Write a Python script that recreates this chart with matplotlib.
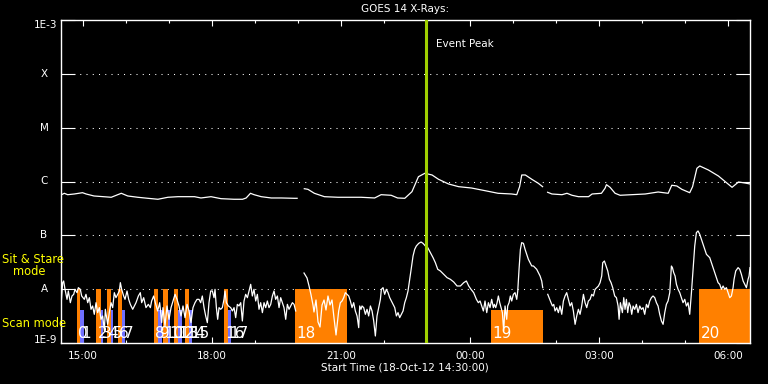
import numpy as np
import matplotlib
matplotlib.use("Agg")
import matplotlib.pyplot as plt
from matplotlib.transforms import blended_transform_factory
from matplotlib.ticker import FixedLocator, NullLocator

# ---------------- data ----------------
title = "GOES 14 X-Rays:"
xlabel = "Start Time (18-Oct-12 14:30:00)"
xtick_minutes = [30, 210, 390, 570, 750, 930]          # minutes after 14:30
xtick_labels = ["15:00", "18:00", "21:00", "00:00", "03:00", "06:00"]
minor_minutes = [30 + 60 * i for i in range(16)]
class_levels = [1e-8, 1e-7, 1e-6, 1e-5, 1e-4]
class_labels = ["A", "B", "C", "M", "X"]
peak_minute = 508
peak_label = "Event Peak"

# GOES long channel (1-8 A), log10 flux, minutes after 14:30
long_t = [0, 4.6, 9.3, 18.5, 30, 35, 46, 70, 84, 93, 107, 121, 135, 149, 163, 186,
          195, 209, 223, 241, 253, 258, 264, 269, 279, 293, 307, 325, 329, 334,
          339, 344, 353, 367, 386, 404, 418, 437, 446, 460, 469, 479, 489, 498,
          507, 517, 526, 540, 554, 572, 591, 609, 628, 635, 639, 642, 647, 656,
          665, 671, 674, 678, 684, 698, 705, 712, 721, 735, 740, 753, 758, 760,
          765, 772, 779, 795, 814, 832, 846, 851, 858, 865, 876, 880, 886, 890,
          902, 916, 935, 944, 953, 960]
long_log = [-6.251, -6.219, -6.245, -6.232, -6.208, -6.232, -6.269, -6.293, -6.219,
            -6.269, -6.293, -6.312, -6.330, -6.293, -6.282, -6.282, -6.306, -6.282,
            -6.319, -6.330, -6.330, -6.306, -6.219, -6.245, -6.282, -6.306, -6.306,
            -6.312, -6.312, np.nan,
            -6.134, -6.145, -6.219, -6.282, -6.293, -6.293, -6.293, -6.306, -6.245,
            -6.256, -6.306, -6.312, -6.189, -5.911, -5.847, -5.879, -5.959, -6.046,
            -6.096, -6.121, -6.171, -6.219, -6.232, -6.245, -6.096, -5.879, -5.879,
            -5.959, -6.033, -6.096, np.nan,
            -6.200, -6.232, -6.245, -6.219, -6.256, -6.282, -6.282, -6.232, -6.219,
            -6.126, -6.059, -6.108, -6.219, -6.256, -6.245, -6.232, -6.195, -6.219,
            -6.070, -6.083, -6.145, -6.208, -6.096, -5.755, -5.712, -5.786, -5.898,
            -6.108, -6.009, -6.028, -6.046]

# GOES short channel (0.5-4 A), log10 flux, minutes after 14:30
short_t = [0, 2.3, 3.7, 5.6, 8.4, 10.2, 13.0, 15.3, 17.7, 19.5, 22.3, 24.2, 26.9, 28.8,
           32.5, 34.8, 37.2, 39.5, 41.8, 44.1, 46.4, 48.8, 51.1, 53.4, 55.7, 58.1,
           60.4, 61.8, 65.0, 67.3, 69.7, 72.0, 74.3, 76.6, 79.0, 81.3, 82.7, 84.5,
           87.3, 89.2, 92.0, 94.3, 96.6, 99.9, 102.2, 104.5, 107.8, 110.5, 112.4,
           115.2, 118.4, 121.7, 124.5, 126.3, 129.1, 131.4, 134.7, 137.5, 140.3,
           142.1, 144.9, 147.7, 150.5, 153.3, 156.1, 158.9, 161.6, 164.4, 167.2,
           170.0, 172.8, 175.6, 178.4, 181.1, 183.9, 186.7, 189.5,
           192.3, 194.6, 196.9, 199.3, 201.6, 203.9, 206.2, 208.6, 210.9, 213.2,
           214.6, 216.5, 218.3, 220.2, 222.5, 224.8, 227.1, 228.5, 230.4, 233.2,
           236.4, 238.8, 241.1, 243.4, 245.7, 248.0, 250.4, 252.7, 255.0, 257.3,
           259.7, 262.0, 264.3, 266.6, 268.9, 271.3, 273.6, 275.9, 278.2, 280.6,
           282.9, 285.2, 287.5, 289.8, 292.2, 294.5, 296.8, 299.1, 301.5, 303.8,
           306.1, 308.4, 310.7, 313.1, 315.4, 317.7, 320.0, 322.4, 324.7, 327.0, 333,
           338.6, 342.8, 345.6, 348.4, 351.1, 352.5, 355.3, 358.1, 360.9, 363.7,
           366.5, 369.2, 372.0, 374.8, 377.6, 380.4, 383.2,
           386.9, 389.2, 391.6, 393.9, 396.2, 398.5, 400.9, 403.2, 405.5, 407.8,
           410.1, 412.5, 414.8, 416.2, 418.0, 419.4, 421.8, 424.1, 426.4, 428.7,
           431.1, 433.4, 435.7, 438.0, 440.3, 442.7, 445.0, 446.4, 448.7, 451.0,
           453.3, 455.7, 458.0, 460.3, 462.6, 465.0, 467.3, 469.6, 471.9, 474.2,
           476.6, 478.9, 481.2, 483.5, 485.9, 488.2, 490.5, 492.8, 495.1, 498.4,
           501.7, 504.4, 507.7, 511.0, 514.7, 518.4, 521.6, 524.9, 528.6, 533.2,
           537.9, 542.5, 547.2, 551.8, 556.5, 561.1, 564.8, 568.1, 571.3, 575.0,
           578.8, 581.5, 583.9, 586.2, 588.5, 590.8, 593.2, 595.5, 597.8, 600.1,
           602.4, 603.8, 605.7, 607.6, 609.4, 611.3, 613.1, 615.0, 616.8, 618.7,
           621.0, 622.4, 624.3, 626.1, 628.0, 630.3, 632.6, 635.0, 636.4, 638.2,
           640.1, 641.9, 644.3, 646.6, 648.9, 651.2, 653.5, 655.9, 658.2, 660.5,
           662.8, 665.2, 667.5, 669.8, 671.2, 673,
           678.2, 680.0, 682.8, 684.7, 686.5, 688.4, 690.7, 693.0, 695.3, 697.7,
           700.0, 702.3, 704.6, 707.0, 709.3, 711.6, 713.9, 716.3, 718.6, 720.9,
           723.2, 725.5, 727.9, 730.2, 732.5, 734.8, 737.2, 739.5, 741.8, 744.1,
           746.4, 748.8, 751.1, 753.4, 754.8, 757.1, 759.4, 761.8, 764.1, 766.4,
           768.7, 771.5, 773.9, 776.2, 777.6, 779.4, 782.2, 784.1, 785.9, 787.8,
           789.6, 791.5, 793.4, 795.2, 797.1, 799.4, 801.7, 804.0, 806.4, 808.7,
           811.0, 813.3, 815.7, 818.0, 820.3, 822.6, 824.9, 827.3, 829.6, 831.9,
           834.2, 836.6, 838.9, 841.2, 843.5, 845.8, 848.2, 850.5, 851.9, 853.7,
           855.6, 857.5, 859.8, 862.1, 864.4, 866.7, 869.1, 871.4, 873.7, 876.0,
           878.4, 880.7, 883.0, 885.3, 887.6, 890.0, 892.3, 894.6, 896.9, 899.3,
           901.6, 903.9, 906.2, 908.6, 910.9, 913.2, 915.5, 917.8, 920.2, 922.5,
           924.8, 927.1, 929.5, 931.8, 934.1, 936.4, 937.8, 940.1, 943.4, 945.7,
           948.0, 950.4, 952.7, 955.0, 957.3, 958.7, 960]
short_log = [-8.312, -7.879, -7.848, -8.003, -8.189, -8.034, -8.251, -8.127, -8.096,
             -8.003, -8.065, -7.972, -8.003, -8.127, -8.189, -8.096, -8.251, -8.158,
             -8.374, -8.312, -8.467, -8.251, -8.436, -8.343, -8.560, -8.498, -8.777,
             -8.374, -8.653, -8.436, -8.251, -8.343, -8.065, -8.158, -8.096, -8.034,
             -7.879, -8.003, -8.127, -8.189, -8.034, -8.189, -8.282, -8.374, -8.312,
             -8.251, -8.127, -8.065, -8.251, -8.158, -8.343, -8.282, -8.343, -8.220,
             -8.127, -8.251, -8.405, -8.251, -8.622, -8.343, -8.684, -8.312, -8.560,
             -8.343, -8.220, -8.096, -8.189, -8.312, -8.498, -8.312, -8.529, -8.282,
             -8.405, -8.622, -8.343, -8.251, -8.189,
             -8.189, -8.251, -8.127, -8.343, -8.498, -8.622, -8.251, -8.034, -8.034,
             -8.158, -8.003, -8.343, -8.560, -8.343, -8.374, -8.343, -8.189, -8.034,
             -8.251, -8.312, -8.343, -8.405, -8.343, -8.529, -8.282, -8.312, -8.251,
             -8.591, -8.220, -8.096, -8.158, -8.034, -7.910, -8.127, -8.003, -8.220,
             -8.096, -8.374, -8.251, -8.436, -8.251, -8.343, -8.220, -8.343, -8.282,
             -8.127, -8.034, -8.189, -8.127, -8.343, -8.158, -8.251, -8.343, -8.560,
             -8.282, -8.374, -8.312, -8.251, -8.282, -8.405, np.nan,
             -7.700, -7.792, -7.941, -8.108, -8.294, -8.424, -8.201, -8.610, -8.703,
             -8.294, -8.201, -8.387, -8.127, -8.294, -8.201, -8.536, -8.851,
             -8.405, -8.251, -8.220, -8.158, -8.065, -8.096, -8.127, -8.220, -8.343,
             -8.251, -8.405, -8.498, -8.715, -8.312, -8.374, -8.312, -8.343, -8.467,
             -8.374, -8.498, -8.312, -8.405, -8.591, -8.870, -8.498, -8.343, -8.189,
             -8.003, -7.972, -8.096, -8.003, -8.065, -8.158, -8.220, -8.282, -8.343,
             -8.498, -8.436, -8.529, -8.467, -8.405, -8.251, -8.158, -8.034, -7.817,
             -7.601, -7.384, -7.260, -7.198, -7.149, -7.124, -7.149, -7.198, -7.229,
             -7.322, -7.415, -7.508, -7.631, -7.662, -7.724, -7.786, -7.817, -7.867,
             -7.941, -7.941, -7.879, -7.848, -7.941, -8.003, -8.065, -8.189,
             -8.251, -8.220, -8.312, -8.405, -8.220, -8.436, -8.251, -8.343, -8.189,
             -8.343, -8.282, -8.343, -8.251, -8.127, -8.251, -8.343, -8.436, -8.777,
             -8.312, -8.560, -8.312, -8.251, -8.127, -8.220, -8.096, -8.065, -8.189,
             -8.034, -7.631, -7.260, -7.136, -7.149, -7.260, -7.353, -7.446, -7.508,
             -7.569, -7.569, -7.601, -7.631, -7.693, -7.755, -7.848, -7.972, np.nan,
             -8.096, -8.158, -8.251, -8.312, -8.282, -8.405, -8.343, -8.436, -8.312,
             -8.467, -8.220, -8.127, -8.065, -8.189, -8.312, -8.251, -8.405, -8.653,
             -8.498, -8.374, -8.467, -8.312, -8.096, -8.251, -8.343, -8.220, -8.189,
             -8.096, -8.127, -8.003, -7.972, -7.941, -7.879, -7.755, -7.508, -7.477,
             -7.569, -7.662, -7.817, -7.879, -7.972, -8.127, -8.158, -8.313, -8.560,
             -8.251, -8.436, -8.158, -8.375, -8.189, -8.436, -8.251, -8.313, -8.467,
             -8.313, -8.375, -8.282, -8.436, -8.313, -8.375, -8.344, -8.467, -8.282,
             -8.344, -8.220, -8.158, -8.127, -8.158, -8.251, -8.313, -8.467, -8.591,
             -8.653, -8.436, -8.282, -8.220, -8.065, -7.570, -7.600, -7.693, -7.755,
             -7.910, -8.003, -8.065, -8.158, -8.251, -8.189, -8.313, -8.251, -8.467,
             -8.065, -7.631, -7.198, -6.950, -6.919, -6.981, -7.074, -7.167, -7.260,
             -7.353, -7.384, -7.415, -7.508, -7.600, -7.693, -7.786, -7.879, -7.910,
             -8.003, -7.941, -8.003, -7.972, -8.065, -8.158, -8.127, -7.972, -7.817,
             -7.662, -7.600, -7.631, -7.724, -7.848, -7.910, -7.972, -7.817, -7.755,
             -7.600]

# observation mode bars (minutes after 14:30) and their tops (W/m^2)
orange_start = [22.3, 48.8, 64.1, 79.4, 129.6, 142.1, 157.5, 172.8, 227.1, 326, 599, 889]
orange_end = [26.9, 55.3, 69.7, 85.0, 135.6, 148.7, 163.4, 178.4, 232.7, 398, 671, 960]
orange_top = [1e-8, 1e-8, 1e-8, 1e-8, 1e-8, 1e-8, 1e-8, 1e-8, 1e-8, 1e-8, 4.1e-9, 1e-8]
blue_start = [26.9, 55.3, 69.7, 85.0, 135.6, 148.7, 163.4, 178.4, 232.7]
blue_end = [31.6, 58.5, 72.5, 89.2, 140.3, 151.9, 168.2, 182.1, 236.5]
blue_top = [4.1e-9] * 9
obs_labels = ["0", "1", "2", "3", "4", "5", "6", "7", "8", "9", "10", "11", "12",
              "13", "14", "15", "16", "17", "18", "19", "20"]

# ---------------- plot ----------------
W, H = 768, 384
fig = plt.figure(figsize=(W / 100, H / 100), dpi=100, facecolor="black")
L, R, T, B = 61, 750, 20, 343
ax = fig.add_axes([L / W, 1 - B / H, (R - L) / W, (B - T) / H])
ax.set_facecolor("black")
ax.set_yscale("log")
ax.set_ylim(1e-9, 1e-3)
ax.set_xlim(0, 960)

for lvl in class_levels:
    ax.axhline(lvl, color="white", lw=0.75, ls=(0, (1, 5)), zorder=1)

ymin = 1e-9
ax.bar(orange_start, np.array(orange_top) - ymin, width=np.subtract(orange_end, orange_start),
       bottom=ymin, align="edge", color="#ff8000", lw=0, zorder=2)
ax.bar(blue_start, np.array(blue_top) - ymin, width=np.subtract(blue_end, blue_start),
       bottom=ymin, align="edge", color="#7070ff", lw=0, zorder=2)

label_pos = []
for o, b in zip(orange_start[:9], blue_start):
    label_pos += [o, b]
label_pos += orange_start[9:]
for lab, pos in zip(obs_labels, label_pos):
    ax.annotate(lab, xy=(pos, ymin), xytext=(1.0, 3.6), textcoords="offset points",
                color="white", fontsize=11, va="baseline", ha="left", zorder=6)

ax.plot(long_t, 10 ** np.array(long_log), color="white", lw=0.9, zorder=4)
ax.plot(short_t, 10 ** np.array(short_log), color="white", lw=0.9, zorder=4)

ax.axvline(peak_minute, color="#a0d000", lw=2.2, zorder=5)
ax.annotate(peak_label, xy=(peak_minute, 0.917),
            xycoords=blended_transform_factory(ax.transData, ax.transAxes),
            xytext=(7.5, 0), textcoords="offset points", color="white",
            fontsize=7.5, va="baseline", ha="left")

for sp in ax.spines.values():
    sp.set_color("white")
    sp.set_linewidth(1.0)

ax.xaxis.set_major_locator(FixedLocator(xtick_minutes))
ax.xaxis.set_minor_locator(FixedLocator(minor_minutes))
ax.set_xticklabels(xtick_labels)
ax.tick_params(axis="x", which="major", direction="in", length=4.3, width=0.8,
               color="white", labelcolor="white", labelsize=7.5, pad=6,
               top=True, bottom=True)
ax.tick_params(axis="x", which="minor", direction="in", length=2.5, width=0.8,
               color="white", top=True, bottom=True)

ax.yaxis.set_major_locator(FixedLocator([1e-9, 1e-8, 1e-7, 1e-6, 1e-5, 1e-4, 1e-3]))
ax.yaxis.set_minor_locator(NullLocator())
ax.tick_params(axis="y", which="major", direction="in", length=10, width=0.8,
               color="white", left=True, right=True, labelleft=False)

ytr = blended_transform_factory(fig.transFigure, ax.transData)
for lvl, lab in zip(class_levels, class_labels):
    ax.text(44 / W, lvl, lab, transform=ytr, color="white", fontsize=7.5,
            ha="center", va="center")
ax.text(57 / W, 1e-3, "1E-3", transform=ytr, color="white", fontsize=7.5,
        ha="right", va="top")
ax.text(57 / W, 1e-9, "1E-9", transform=ytr, color="white", fontsize=7.5,
        ha="right", va="baseline")

fig.text(405 / W, 1 - 12.5 / H, title, color="white", fontsize=7.5,
         ha="center", va="baseline")
fig.text(405 / W, 1 - 371 / H, xlabel, color="white", fontsize=7.5,
         ha="center", va="baseline")
fig.text(2 / W, 1 - 263 / H, "Sit & Stare", color="#ffff00", fontsize=8.3,
         ha="left", va="baseline")
fig.text(13 / W, 1 - 275 / H, "mode", color="#ffff00", fontsize=8.3,
         ha="left", va="baseline")
fig.text(2 / W, 1 - 327 / H, "Scan mode", color="#ffff00", fontsize=8.3,
         ha="left", va="baseline")

fig.savefig("out.png", dpi=100, facecolor="black")
